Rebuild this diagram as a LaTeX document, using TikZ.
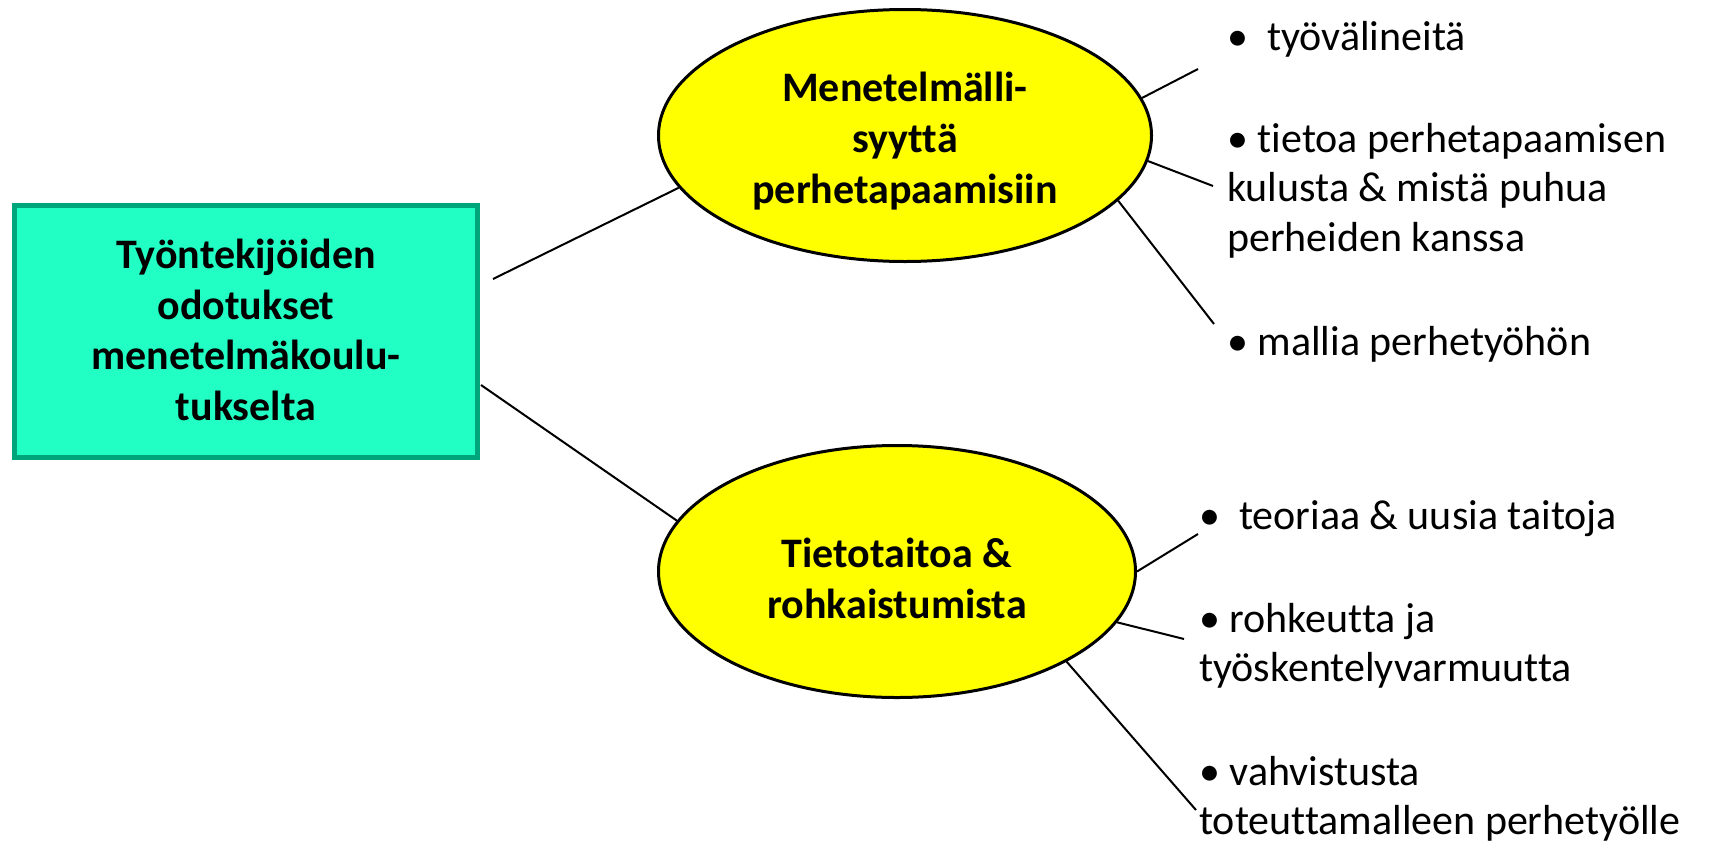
\documentclass[tikz,border=0pt]{standalone}
\usepackage{fontspec}
\setmainfont[Ligatures=NoCommon]{Carlito}
\usetikzlibrary{shapes.geometric}
\definecolor{boxfill}{HTML}{22FFC4}
\definecolor{boxline}{HTML}{00A67B}
\definecolor{topicfill}{HTML}{FFFF00}
% stacked lines whose baseline is the first line
\newcommand{\itemlines}[1]{\begin{tabular}[t]{@{}l@{}}#1\end{tabular}}
\begin{document}
\begin{tikzpicture}[x=1pt,y=-1pt,
  mainbox/.style={draw=boxline, line width=5pt, fill=boxfill, inner sep=0pt,
    minimum width=463pt, minimum height=252pt, align=center,
    font=\fontsize{42}{50.5}\selectfont\bfseries},
  topic/.style={ellipse, draw=black, line width=3pt, fill=topicfill, inner sep=0pt,
    align=center, font=\fontsize{42}{51}\selectfont\bfseries},
  item/.style={anchor=base west, inner sep=0pt,
    font=\fontsize{42}{49.5}\selectfont},
  link/.style={line width=2pt, black}]
\useasboundingbox (0,0) rectangle (1713,846);

% central box
\node[mainbox, text height=177pt, text depth=0pt] (box) at (246,331.5)
  {Työntekijöiden\\odotukset\\menetelmäkoulu-\\tukselta};

% the two topics
\node[topic, minimum width=493pt, minimum height=252pt,
      text height=135pt, text depth=0pt] (e1) at (905,135.5)
  {Menetelmälli-\\syyttä\\perhetapaamisiin};
\node[topic, minimum width=477pt, minimum height=252pt,
      text height=93pt, text depth=0pt] (e2) at (897,571.5)
  {Tietotaitoa \&\\rohkaistumista};

% bullet items
\node[item] (i1) at (1227,50) {•~ työvälineitä};
\node[item] (i2) at (1227,152)
  {\itemlines{• tietoa perhetapaamisen\\kulusta \& mistä puhua\\perheiden kanssa}};
\node[item] (i3) at (1227,355) {• mallia perhetyöhön};
\node[item] (i4) at (1199,529) {•~ teoriaa \& uusia taitoja};
\node[item] (i5) at (1199,632)
  {\itemlines{• rohkeutta ja\\työskentelyvarmuutta}};
\node[item] (i6) at (1199,785)
  {\itemlines{• vahvistusta\\toteuttamalleen perhetyölle}};

% free ends of the connectors
\coordinate (bx1) at (493,279);
\coordinate (bx2) at (481,385);
\coordinate (a1) at (1198,69);
\coordinate (a2) at (1213,186);
\coordinate (a3) at (1214,324);
\coordinate (b1) at (1198,534);
\coordinate (b2) at (1184,639);
\coordinate (b3) at (1196,810);

% connectors
\draw[link] (bx1) -- (e1.193);
\draw[link] (bx2) -- (e2.167);
\draw[link] (e1.9) -- (a1);
\draw[link] (e1.-6) -- (a2);
\draw[link] (e1.-17) -- (a3);
\draw[link] (e2.0) -- (b1);
\draw[link] (e2.-13) -- (b2);
\draw[link] (e2.-28) -- (b3);
\end{tikzpicture}
\end{document}
